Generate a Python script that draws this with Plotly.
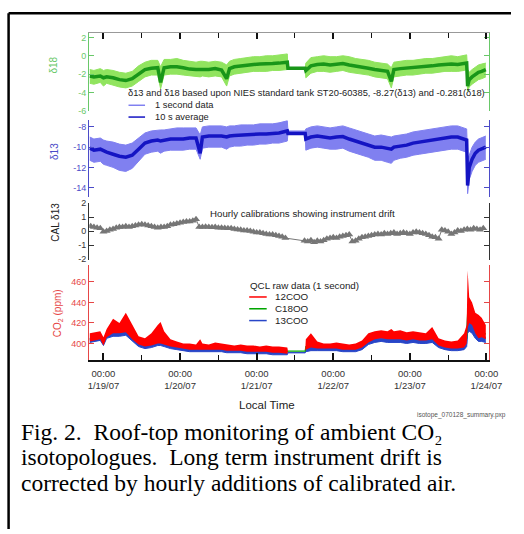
import plotly.graph_objects as go

W, H = 524, 534
def px(x): return x / W
def py(y): return 1 - y / H

# ---------------- data (hours since 1/19/07 00:00 local time) ----------------
hours = [-4.3, -3, -1, 0, 1, 3, 5, 7, 9, 11,
         13, 15, 17, 17.9, 19, 21, 23, 25, 27, 29,
         30.3, 31, 33, 35, 37, 38.6, 39.5, 41, 43, 45,
         47, 49, 51, 53, 55, 57.6, 57.8, 63.2, 63.4, 65,
         67, 69, 71, 73, 75, 77, 79, 81, 83, 85,
         87, 89, 90.2, 91, 93, 95, 97, 99, 101, 103,
         105, 107, 109, 111, 113, 113.8, 114.1, 114.6, 115.5, 116.5,
         117.5, 118.5, 119.8]

# delta 18: 10 s average and 1 s envelope
d18_avg = [-2.2, -2.3, -2.2, -2.4, -2.3, -2.4, -2.6, -2.7, -2.5, -2.0,
           -1.5, -1.35, -1.3, -2.9, -1.3, -1.2, -1.2, -1.3, -1.45, -1.5,
           -1.5, -1.45, -1.5, -1.4, -1.55, -2.5, -1.4, -1.2, -1.1, -1.05,
           -0.95, -0.9, -0.9, -0.85, -0.8, -0.7, -1.35, -1.35, -1.6, -1.1,
           -0.95, -0.9, -1.0, -0.95, -0.85, -1.0, -1.1, -1.25, -1.35, -1.5,
           -1.6, -1.7, -2.8, -1.5, -1.4, -1.35, -1.3, -1.25, -1.15, -1.1,
           -1.0, -0.95, -0.9, -0.95, -0.85, -0.8, -3.3, -2.6, -2.3, -2.0,
           -1.8, -1.7, -1.5]
d18_hi = [-1.5, -1.6, -1.4, -1.6, -1.5, -1.6, -1.8, -1.9, -1.7, -1.1,
          -0.7, -0.5, -0.5, -1.2, -0.4, -0.4, -0.3, -0.5, -0.6, -0.7,
          -0.6, -0.6, -0.7, -0.6, -0.7, -1.0, -0.6, -0.4, -0.3, -0.2,
          -0.1, -0.1, 0.0, 0.0, 0.1, 0.2, -1.35, -1.35, -0.8, -0.2,
          -0.1, 0.0, -0.1, -0.1, 0.0, -0.1, -0.3, -0.4, -0.5, -0.7,
          -0.8, -0.9, -1.3, -0.7, -0.6, -0.5, -0.5, -0.4, -0.3, -0.3,
          -0.2, -0.1, 0.0, -0.1, 0.0, 0.1, -1.5, -1.8, -1.5, -1.2,
          -1.0, -0.9, -0.8]
d18_lo = [-3.0, -3.1, -2.9, -3.3, -3.0, -3.2, -3.4, -3.5, -3.3, -2.8,
          -2.3, -2.1, -2.1, -3.6, -2.1, -2.0, -2.0, -2.1, -2.2, -2.3,
          -2.3, -2.2, -2.3, -2.2, -2.3, -3.3, -2.2, -2.0, -1.9, -1.8,
          -1.7, -1.7, -1.7, -1.6, -1.6, -1.5, -1.35, -1.35, -2.4, -1.9,
          -1.7, -1.7, -1.8, -1.7, -1.6, -1.8, -1.9, -2.0, -2.1, -2.3,
          -2.4, -2.5, -3.5, -2.3, -2.2, -2.1, -2.1, -2.0, -1.9, -1.9,
          -1.8, -1.7, -1.7, -1.7, -1.6, -1.5, -3.9, -3.4, -3.1, -2.8,
          -2.6, -2.5, -2.3]

# delta 13: 10 s average and 1 s envelope
d13_avg = [-10.1, -10.3, -10.2, -10.4, -10.5, -10.7, -10.9, -11.0, -10.8, -10.2,
           -9.6, -9.4, -9.3, -9.4, -9.3, -9.2, -9.2, -9.2, -9.1, -9.1,
           -10.6, -9.0, -8.9, -8.9, -8.9, -9.0, -8.9, -8.85, -8.8, -8.8,
           -8.75, -8.7, -8.7, -8.65, -8.6, -8.4, -8.65, -8.65, -9.2, -9.0,
           -8.9, -9.0, -9.1, -9.0, -8.95, -9.2, -9.4, -9.6, -9.8, -10.0,
           -10.0, -10.1, -10.2, -10.0, -9.9, -9.8, -9.6, -9.5, -9.4, -9.3,
           -9.2, -9.1, -9.0, -9.0, -9.2, -9.3, -13.8, -12.0, -11.2, -10.6,
           -10.3, -10.2, -10.0]
d13_hi = [-9.0, -9.2, -9.1, -9.3, -9.4, -9.5, -9.7, -9.8, -9.6, -9.1,
          -8.6, -8.4, -8.3, -8.3, -8.3, -8.2, -8.1, -8.1, -8.1, -8.1,
          -8.8, -8.0, -7.9, -7.9, -7.9, -8.0, -7.9, -7.9, -7.8, -7.8,
          -7.8, -7.7, -7.7, -7.7, -7.6, -7.4, -8.4, -8.4, -8.2, -8.0,
          -7.9, -8.0, -8.1, -8.0, -7.9, -8.1, -8.3, -8.5, -8.7, -8.9,
          -8.8, -8.9, -9.0, -8.9, -8.8, -8.7, -8.5, -8.4, -8.3, -8.2,
          -8.1, -8.0, -7.9, -7.9, -8.1, -8.2, -11.0, -10.8, -10.0, -9.5,
          -9.2, -9.1, -8.9]
d13_lo = [-11.3, -11.5, -11.4, -11.7, -11.8, -12.0, -12.3, -12.4, -12.1, -11.4,
          -10.7, -10.5, -10.4, -10.6, -10.4, -10.3, -10.3, -10.3, -10.2, -10.2,
          -11.2, -10.1, -10.0, -10.0, -10.0, -10.2, -10.0, -9.9, -9.9, -9.8,
          -9.8, -9.7, -9.7, -9.6, -9.6, -9.4, -8.65, -8.65, -10.3, -10.1,
          -10.0, -10.1, -10.2, -10.2, -10.1, -10.4, -10.6, -10.8, -11.0, -11.3,
          -11.3, -11.5, -11.6, -11.3, -11.1, -11.0, -10.8, -10.7, -10.6, -10.5,
          -10.4, -10.3, -10.2, -10.2, -10.4, -10.5, -14.6, -13.2, -12.4, -11.8,
          -11.5, -11.4, -11.2]

# hourly calibrations (CAL delta 13)
cal_hours = list(range(-4, 58)) + list(range(63, 120))
cal_d13 = [0.35, 0.3, 0.25, 0.2, -0.05, 0.0, 0.1, 0.15, 0.25, 0.3,
           0.3, 0.35, 0.3, 0.35, 0.4, 0.45, 0.5, 0.45, 0.4, 0.35,
           0.3, 0.25, 0.3, 0.3, 0.35, 0.45, 0.5, 0.55, 0.6, 0.65,
           0.7, 0.7, 0.75, 0.85, 0.3, 0.3, 0.32, 0.3, 0.28, 0.3,
           0.25, 0.25, 0.22, 0.2, 0.2, 0.15, 0.12, 0.1, 0.05, 0.05,
           0.0, -0.05, -0.1, -0.1, -0.15, -0.2, -0.25, -0.25, -0.3, -0.35,
           -0.4, -0.5,
           -0.7, -0.75, -0.65, -0.8, -0.7, -0.75, -0.65, -0.55, -0.5, -0.45,
           -0.5, -0.4, -0.35, -0.3, -0.25, -0.75, -0.7, -0.55, -0.45, -0.4,
           -0.35, -0.3, -0.25, -0.2, -0.25, -0.15, -0.2, -0.15, -0.1, -0.2,
           -0.15, -0.1, -0.15, -0.2, -0.1, -0.05, -0.1, -0.15, -0.2, -0.3,
           -0.4, -0.45, -0.55, 0.1, 0.05, -0.05, -0.2, -0.1, 0.05, 0.0,
           0.1, 0.15, 0.1, 0.2, 0.15, 0.1, 0.2]

# QCL raw CO2 (ppm), 1 s envelopes
co2_12_hi = [410, 411, 412, 406, 414, 424, 420, 430, 418, 407,
             405, 410, 418, 421, 412, 404, 402, 400, 400, 399,
             404, 400, 399, 401, 400, 399, 399, 398, 399, 398,
             398, 397, 398, 397, 397, 396, 393, 393, 404, 410,
             402, 400, 400, 401, 400, 399, 400, 403, 410, 412,
             413, 412, 414, 412, 413, 411, 412, 411, 410, 416,
             405, 403, 402, 403, 410, 418, 471, 445, 440, 430,
             428, 425, 418]
co2_12_lo = [402, 403, 404, 398, 406, 410, 410, 411, 404, 399,
             397, 398, 400, 400, 399, 397, 396, 395, 394, 394,
             394, 394, 394, 394, 394, 393, 393, 393, 393, 392,
             392, 392, 392, 391, 391, 390, 393, 393, 394, 396,
             395, 395, 395, 395, 394, 394, 394, 396, 401, 404,
             405, 404, 404, 404, 404, 403, 404, 403, 403, 404,
             398, 396, 395, 395, 396, 400, 415, 420, 418, 410,
             405, 406, 404]
co2_18 = [404, 405, 406, 401, 408, 412, 413, 414, 407, 401,
          399, 401, 403, 403, 402, 399, 398, 397, 396, 396,
          396, 396, 396, 396, 396, 395, 395, 395, 395, 394,
          394, 394, 394, 393, 393, 392, 392.5, 392.5, 397, 400,
          397, 397, 397, 397, 396, 396, 396, 398, 404, 407,
          408, 407, 407, 407, 407, 406, 407, 406, 406, 407,
          400, 398, 397, 397, 399, 405, 430, 428, 425, 418,
          412, 412, 409]
co2_13_hi = [405, 406, 407, 402, 409, 412, 412, 413, 407, 401,
             399, 400, 402, 402, 401, 398, 397, 396, 395, 395,
             395, 395, 395, 395, 395, 394, 394, 394, 394, 393,
             393, 393, 393, 392, 392, 391, 391, 391, 395, 397,
             396, 396, 396, 396, 395, 395, 395, 397, 402, 405,
             405, 405, 405, 405, 405, 404, 405, 404, 404, 405,
             399, 397, 396, 396, 397, 400, 430, 425, 420, 412,
             408, 408, 406]
co2_13_lo = [401, 402, 403, 398, 405, 407, 407, 408, 402, 397,
             395, 396, 398, 398, 397, 395, 394, 393, 392, 392,
             392, 392, 392, 392, 392, 391, 391, 391, 391, 390,
             390, 390, 390, 389, 389, 389, 391, 391, 392, 393,
             393, 393, 393, 393, 392, 392, 392, 394, 399, 401,
             402, 401, 401, 401, 401, 400, 401, 400, 400, 401,
             396, 394, 393, 393, 394, 397, 410, 412, 410, 405,
             402, 402, 401]

day_ticks = [0, 24, 48, 72, 96, 120]
day_text = ["00:00<br>1/19/07", "00:00<br>1/20/07", "00:00<br>1/21/07",
            "00:00<br>1/22/07", "00:00<br>1/23/07", "00:00<br>1/24/07"]

# ---------------- styling ----------------
LIGHT_G = "rgb(145,228,95)"
DARK_G = "rgb(25,150,25)"
AX_G = "rgb(105,200,105)"
LIGHT_B = "rgb(128,128,240)"
DARK_B = "rgb(20,20,195)"
AX_B = "rgb(75,75,200)"
GREY = "rgb(118,118,118)"
RED = "rgb(255,0,0)"
AX_R = "rgb(230,70,70)"
BLUE13 = "rgb(40,70,200)"
GREEN18 = "rgb(0,165,0)"

fig = go.Figure()

def band(x, lo, hi, yaxis, color, lw):
    fig.add_trace(go.Scatter(x=x, y=lo, yaxis=yaxis, mode="lines",
                             line=dict(color=color, width=lw), hoverinfo="skip"))
    fig.add_trace(go.Scatter(x=x, y=hi, yaxis=yaxis, mode="lines", fill="tonexty",
                             fillcolor=color, line=dict(color=color, width=lw),
                             hoverinfo="skip"))

band(hours, d18_lo, d18_hi, "y", LIGHT_G, 1)
fig.add_trace(go.Scatter(x=hours, y=d18_avg, yaxis="y", mode="lines",
                         line=dict(color=DARK_G, width=3.5)))
band(hours, d13_lo, d13_hi, "y2", LIGHT_B, 1)
fig.add_trace(go.Scatter(x=hours, y=d13_avg, yaxis="y2", mode="lines",
                         line=dict(color=DARK_B, width=3.5)))
fig.add_trace(go.Scatter(x=cal_hours, y=cal_d13, yaxis="y3", mode="lines+markers",
                         line=dict(color=GREY, width=1),
                         marker=dict(symbol="triangle-up", size=7, color=GREY)))
band(hours, co2_13_lo, co2_13_hi, "y4", BLUE13, 1)
fig.add_trace(go.Scatter(x=hours, y=co2_18, yaxis="y4", mode="lines",
                         line=dict(color=GREEN18, width=1.2)))
band(hours, co2_12_lo, co2_12_hi, "y4", RED, 0)

X0, X1 = px(90.7), px(501.3)
XR = [-4.45, 120.77]

def yax(dom, rng, color, tv, tt):
    return dict(domain=[py(dom[1]), py(dom[0])], range=rng, anchor="x",
                showline=True, linecolor=color, linewidth=1.2, mirror="ticks",
                ticks="inside", ticklen=5, tickcolor=color, tickwidth=1.2,
                tickvals=tv, ticktext=tt, tickfont=dict(size=9, color=color),
                showgrid=False, zeroline=False, fixedrange=True)

minor_ticks = dict(tick0=0, dtick=12, ticks="inside", ticklen=5, tickcolor="#111",
                   tickwidth=1.3, showgrid=False)

fig.update_layout(
    width=W, height=H, margin=dict(l=0, r=0, t=0, b=0),
    paper_bgcolor="white", plot_bgcolor="rgba(0,0,0,0)", showlegend=False,
    font=dict(family="Liberation Sans, Arial, sans-serif", size=9, color="#222"),
    xaxis=dict(domain=[X0, X1], range=XR, anchor="y4", showline=True,
               linecolor="#111", linewidth=1.5, ticks="inside", ticklen=7,
               tickcolor="#111", tickwidth=1.5, tickvals=day_ticks, ticktext=day_text,
               tickfont=dict(size=9.5, color="#333"), showgrid=False, zeroline=False,
               ticklabelstandoff=4, minor=minor_ticks),
    xaxis2=dict(domain=[X0, X1], range=XR, anchor="y", overlaying="x", side="top",
                showline=True, linecolor="#999", linewidth=1.2, ticks="inside",
                ticklen=6, tickcolor="#111", tickwidth=1.5, tickvals=day_ticks,
                showticklabels=False, showgrid=False, zeroline=False,
                minor=minor_ticks),
    yaxis=yax((29.3, 108.7), [-6.0, 2.5], AX_G, [2, 0, -2, -4, -6],
              ["2", "0", "-2", "-4", "-6"]),
    yaxis2=yax((117.5, 196.0), [-14.9, -7.27], AX_B, [-8, -10, -12, -14],
               ["-8", "-10", "-12", "-14"]),
    yaxis3=yax((202.0, 260.0), [-2.05, 2.05], "#333", [2, 1, 0, -1, -2],
               ["2", "1", "0", "-1", "-2"]),
    yaxis4=yax((265.5, 362.0), [384.0, 476.4], AX_R, [400, 420, 440, 460],
               ["400", "420", "440", "460"]),
)
# make top-axis exist
fig.add_trace(go.Scatter(x=[XR[0]], y=[None], xaxis="x2", yaxis="y", mode="lines",
                         hoverinfo="skip"))

ann = []
def text(x, y, s, size=9, color="#222", anchor="left", angle=0, family=None):
    f = dict(size=size, color=color)
    if family:
        f["family"] = family
    ann.append(dict(x=px(x), y=py(y), xref="paper", yref="paper", text=s,
                    showarrow=False, xanchor=anchor, yanchor="middle",
                    textangle=angle, font=f))

text(54, 62, "δ18", 10, AX_G, "center", -90)
text(55, 150, "δ13", 10, AX_B, "center", -90)
text(56, 222, "CAL δ13", 10, "#222", "center", -90)
text(58, 314, "CO<sub>2</sub> (ppm)", 10, AX_R, "center", -90)

text(128, 91, "δ13 and δ18 based upon NIES standard tank ST20-60385, -8.27(δ13) and -0.281(δ18)", 9.3)
text(156, 103, "1 second data", 9.3)
text(156, 115, "10 s average", 9.3)
text(213, 213.5, "Hourly calibrations showing instrument drift", 9.7)
text(254, 286, "QCL raw data (1 second)", 9.8)
text(279, 298, "12COO", 9.8)
text(279, 310, "C18OO", 9.8)
text(279, 322, "13COO", 9.8)
text(273, 408, "Local Time", 11.5, "#222", "center")
text(425, 418, "isotope_070128_summary.pxp", 6.5, "#555")

SERIF = "Liberation Serif, Times New Roman, serif"
text(19, 435, "Fig. 2.\u00a0 Roof-top monitoring of ambient CO\u2082", 23.5, "#000", family=SERIF)
text(19, 461, "isotopologues.\u00a0 Long term instrument drift is", 23.5, "#000", family=SERIF)
text(19, 487, "corrected by hourly additions of calibrated air.", 23.5, "#000", family=SERIF)

shapes = []
def seg(x0, y0, x1, y1, color, w):
    shapes.append(dict(type="line", xref="paper", yref="paper", x0=px(x0), y0=py(y0),
                       x1=px(x1), y1=py(y1), line=dict(color=color, width=w)))

seg(131, 103, 148, 103, LIGHT_B, 1.5)
seg(131, 115, 148, 115, DARK_B, 1.5)
seg(255, 298, 273, 298, RED, 1.5)
seg(255, 310, 273, 310, GREEN18, 1.5)
seg(255, 322, 273, 322, BLUE13, 1.5)
# figure frame
seg(7.8, 9.5, 524, 9.5, "#000", 2.5)
seg(7.8, 9.5, 7.8, 534, "#000", 2.5)

fig.update_layout(annotations=ann, shapes=shapes)
fig.write_html("out.html")
